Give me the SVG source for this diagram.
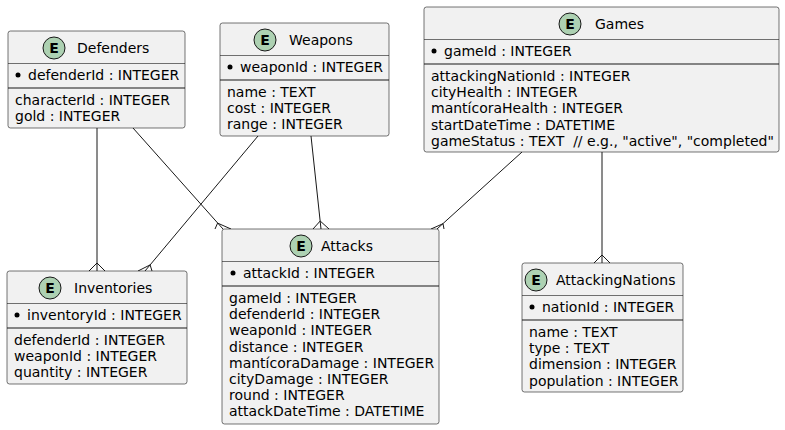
<svg xmlns="http://www.w3.org/2000/svg" width="785" height="430" viewBox="0 0 785 430">
<defs>
<style>
.box{fill:#F1F1F1;stroke:#181818;stroke-width:0.6}
.hl{stroke:#181818;stroke-width:0.6}
.tl{stroke:#181818;stroke-width:1.2}
.ci{fill:#ADD1B2;stroke:#181818;stroke-width:1}
.e{font-family:"DejaVu Sans",sans-serif;font-size:14px;font-weight:bold;fill:#000;text-anchor:middle}
.t{font-family:"DejaVu Sans",sans-serif;font-size:14px;fill:#000;white-space:pre}
.dot{fill:#000}
.c{fill:none;stroke:#181818;stroke-width:1}
</style>
</defs>
<g id="connectors">
<path class="c" d="M97,128 L97,271 M89,271 L97,263 L105,271"/>
<path class="c" d="M133,128 L223,229 M215,229 L217.6,223.1 L231,229"/>
<path class="c" d="M258,136 L145,271 M138,271 L150.1,264.9 L152,271"/>
<path class="c" d="M311,136 L321,229 M313,229 L320.2,221 L329,229"/>
<path class="c" d="M522,152 L437,229 M431,229 L443,223.7 L444,229"/>
<path class="c" d="M602,152 L602,263 M594,263 L602,255 L610,263"/>
</g>
<g id="Defenders">
<rect class="box" x="8" y="31" width="177" height="97" rx="2.5"/>
<circle class="ci" cx="54" cy="48" r="11"/><text class="e" x="54" y="53">E</text>
<text class="t" x="77" y="53">Defenders</text>
<line class="hl" x1="8" y1="63.5" x2="185" y2="63.5"/>
<circle class="dot" cx="18" cy="75" r="2.5"/><text class="t" x="28" y="80">defenderId : INTEGER</text>
<line class="tl" x1="8" y1="88" x2="185" y2="88"/>
<text class="t" x="15" y="105">characterId : INTEGER</text>
<text class="t" x="15" y="121.2">gold : INTEGER</text>
</g>
<g id="Weapons">
<rect class="box" x="220" y="23" width="169" height="113" rx="2.5"/>
<circle class="ci" cx="265" cy="40" r="11"/><text class="e" x="265" y="45">E</text>
<text class="t" x="289" y="45">Weapons</text>
<line class="hl" x1="220" y1="55.5" x2="389" y2="55.5"/>
<circle class="dot" cx="230" cy="67" r="2.5"/><text class="t" x="240" y="72">weaponId : INTEGER</text>
<line class="tl" x1="220" y1="80" x2="389" y2="80"/>
<text class="t" x="227" y="97">name : TEXT</text>
<text class="t" x="227" y="113.2">cost : INTEGER</text>
<text class="t" x="227" y="129.4">range : INTEGER</text>
</g>
<g id="Games">
<rect class="box" x="424" y="7" width="355" height="145" rx="2.5"/>
<circle class="ci" cx="570" cy="24" r="11"/><text class="e" x="570" y="29">E</text>
<text class="t" x="595" y="29">Games</text>
<line class="hl" x1="424" y1="39.5" x2="779" y2="39.5"/>
<circle class="dot" cx="434" cy="51" r="2.5"/><text class="t" x="444" y="56">gameId : INTEGER</text>
<line class="tl" x1="424" y1="64" x2="779" y2="64"/>
<text class="t" x="431" y="81">attackingNationId : INTEGER</text>
<text class="t" x="431" y="97.2">cityHealth : INTEGER</text>
<text class="t" x="431" y="113.4">mantícoraHealth : INTEGER</text>
<text class="t" x="431" y="129.6">startDateTime : DATETIME</text>
<text class="t" x="431" y="145.8">gameStatus : TEXT  // e.g., "active", "completed"</text>
</g>
<g id="Inventories">
<rect class="box" x="7" y="271" width="180" height="113" rx="2.5"/>
<circle class="ci" cx="50" cy="288" r="11"/><text class="e" x="50" y="293">E</text>
<text class="t" x="74" y="293">Inventories</text>
<line class="hl" x1="7" y1="303.5" x2="187" y2="303.5"/>
<circle class="dot" cx="17" cy="315" r="2.5"/><text class="t" x="27" y="320">inventoryId : INTEGER</text>
<line class="tl" x1="7" y1="328" x2="187" y2="328"/>
<text class="t" x="14" y="345">defenderId : INTEGER</text>
<text class="t" x="14" y="361.2">weaponId : INTEGER</text>
<text class="t" x="14" y="377.4">quantity : INTEGER</text>
</g>
<g id="Attacks">
<rect class="box" x="222" y="229" width="217" height="195" rx="2.5"/>
<circle class="ci" cx="301" cy="246" r="11"/><text class="e" x="301" y="251">E</text>
<text class="t" x="321" y="251">Attacks</text>
<line class="hl" x1="222" y1="261.5" x2="439" y2="261.5"/>
<circle class="dot" cx="233" cy="273" r="2.5"/><text class="t" x="243" y="278">attackId : INTEGER</text>
<line class="tl" x1="222" y1="286" x2="439" y2="286"/>
<text class="t" x="229" y="303">gameId : INTEGER</text>
<text class="t" x="229" y="319.2">defenderId : INTEGER</text>
<text class="t" x="229" y="335.4">weaponId : INTEGER</text>
<text class="t" x="229" y="351.6">distance : INTEGER</text>
<text class="t" x="229" y="367.8">mantícoraDamage : INTEGER</text>
<text class="t" x="229" y="384">cityDamage : INTEGER</text>
<text class="t" x="229" y="400.2">round : INTEGER</text>
<text class="t" x="229" y="416.4">attackDateTime : DATETIME</text>
</g>
<g id="AttackingNations">
<rect class="box" x="522" y="263" width="161" height="129" rx="2.5"/>
<circle class="ci" cx="536" cy="280" r="11"/><text class="e" x="536" y="285">E</text>
<text class="t" x="556" y="285">AttackingNations</text>
<line class="hl" x1="522" y1="295.5" x2="683" y2="295.5"/>
<circle class="dot" cx="532" cy="307" r="2.5"/><text class="t" x="542" y="312">nationId : INTEGER</text>
<line class="tl" x1="522" y1="320" x2="683" y2="320"/>
<text class="t" x="529" y="337">name : TEXT</text>
<text class="t" x="529" y="353.2">type : TEXT</text>
<text class="t" x="529" y="369.4">dimension : INTEGER</text>
<text class="t" x="529" y="385.6">population : INTEGER</text>
</g>
</svg>
